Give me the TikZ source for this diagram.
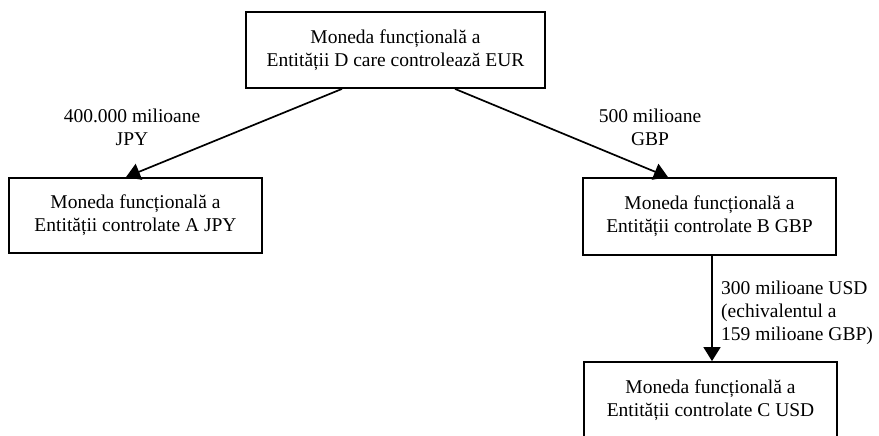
\documentclass[tikz,border=0pt]{standalone}
\usepackage{fontspec}
\setmainfont{Liberation Serif}
\usetikzlibrary{arrows.meta}
\begin{document}
\begin{tikzpicture}[x=1pt,y=-1pt,
  box/.style={draw,line width=1.8pt,rectangle,align=center,inner sep=0pt,
    font=\fontsize{19.5}{23}\selectfont},
  lbl/.style={inner sep=0pt,font=\fontsize{19.5}{23}\selectfont},
  flow/.style={line width=1.7pt,-{Triangle[length=14pt,width=17pt]}}]
  \useasboundingbox (0,0) rectangle (879,436);
  \node[box,minimum width=299pt,minimum height=76pt] (top) at (395.5,50)
    {Moneda funcțională a\\Entității D care controlează EUR};
  \node[box,minimum width=253pt,minimum height=75pt] (ea) at (135.5,215.5)
    {Moneda funcțională a\\Entității controlate A JPY};
  \node[box,minimum width=253pt,minimum height=77pt] (eb) at (709.5,216.5)
    {Moneda funcțională a\\Entității controlate B GBP};
  \node[box,minimum width=253pt,minimum height=77pt] (ec) at (710.5,400.5)
    {Moneda funcțională a\\Entității controlate C USD};
  \draw[flow] ([xshift=-53.5pt]top.south) -- ([xshift=-9.5pt]ea.north);
  \draw[flow] ([xshift=59.5pt]top.south) -- ([xshift=-41.5pt]eb.north);
  \draw[flow] ([xshift=2.5pt]eb.south) -- ([xshift=2.5pt]eb.south |- ec.north);
  \node[lbl,align=center] (la) at (132,127) {400.000 milioane\\JPY};
  \node[lbl,align=center] (lb) at (650,127) {500 milioane\\GBP};
  \node[lbl,align=left,anchor=west] (lc) at (721,313)
    {300 milioane USD\\(echivalentul a\\159 milioane GBP)};
\end{tikzpicture}
\end{document}
